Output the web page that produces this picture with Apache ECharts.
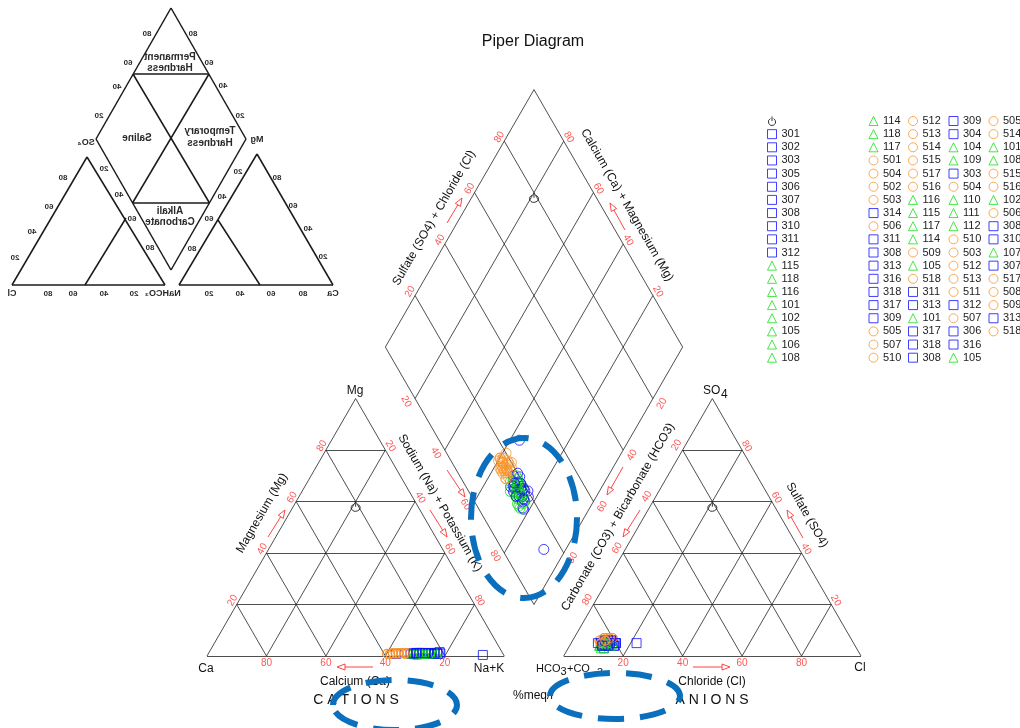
<!DOCTYPE html>
<html>
<head>
<meta charset="utf-8">
<title>Piper Diagram</title>
<script src="https://cdn.jsdelivr.net/npm/echarts@6/dist/echarts.min.js"></script>
<style>
  html, body { margin: 0; padding: 0; background: #fff; }
  #main { width: 1020px; height: 728px; }
</style>
</head>
<body>
<div id="main"></div>
<script>
// ---- data (percent meq/l) ----
var ticks = [20, 40, 60, 80];

// sample ids, in the order of the legend columns
var col1Ids = ['301','302','303','305','306','307','308','310','311','312','115','118','116','101','102','105','106','108'];
var col2Ids = ['114','118','117','501','504','502','503','314','506','311','308','313','316','318','317','309','505','507','510'];
var col3Ids = ['512','513','514','515','517','516','116','115','117','114','509','105','518','311','313','101','317','318','308'];
var col4Ids = ['309','304','104','109','303','504','110','111','112','510','503','512','513','511','312','507','306','316','105'];
var col5Ids = ['505','514','101','108','515','516','102','506','308','310','107','307','517','508','509','313','518'];

// cations
var caPct = [
  24,27,22,29,25,21,26,30,23,28,26,23,29,25,31,22,27,24,
  28,26,30,36,38,34,37,29,35,24,27,25,22,28,26,31,39,33,36,
  37,34,38,35,32,36,27,24,29,23,33,26,37,21,27,30,25,23,28,
  26,36,25,28,24,35,27,22,30,38,33,36,39,34,29,37,25,7,26,
  35,33,28,22,38,34,27,36,23,29,25,30,37,33,35,26,39
];
var mgPct = [
  1.0,0.8,1.2,0.6,1.0,1.5,0.9,0.7,1.1,0.8,1.3,1.0,0.9,1.2,0.8,1.4,1.0,1.1,
  1.0,1.2,0.8,1.0,0.8,1.2,0.9,1.0,1.1,0.9,1.2,1.0,0.8,1.1,0.9,1.0,0.8,1.2,1.0,
  0.9,1.1,0.8,1.0,1.2,0.9,1.1,1.0,0.9,1.2,1.0,0.8,1.1,1.0,0.9,1.1,1.0,0.8,1.2,
  1.0,0.8,1.1,0.9,1.2,1.0,0.8,1.1,1.0,0.9,1.1,1.0,0.8,1.2,1.0,0.9,1.1,0.4,1.0,
  1.1,0.9,1.0,1.2,0.8,1.0,1.1,0.9,1.0,1.2,0.9,1.0,1.1,0.8,1.0,1.1,0.9
];
// anions
var clPct = [
  12,13,11,15,12,10,13,11,15,12,11,13,10,12,11,10,14,11,
  12,14,11,11,10,12,9,13,11,12,15,11,13,12,10,13,10,12,11,
  10,11,13,9,11,13,11,12,14,10,11,12,10,11,14,12,15,11,12,
  13,22,11,12,13,10,11,13,14,11,12,10,11,13,12,11,13,9,12,
  11,10,14,11,12,10,12,11,13,11,12,15,11,10,12,11,11
];
var so4Pct = [
  5,4,6,5,4,5,6,4,5,3,5,4,4,6,5,4,5,3,
  4,5,6,6,7,5,6,4,7,5,4,5,6,4,5,5,6,7,5,
  6,5,7,6,5,6,4,5,5,4,6,3,7,4,5,5,4,5,6,
  5,5,4,5,6,6,5,4,5,7,6,5,6,7,4,6,5,5,5,
  6,5,4,5,6,7,5,5,4,6,5,5,6,5,7,4,6
];
// reference point: ca, mg, cl, so4
var neutralPct = [21, 58, 21, 58];

// ---- geometry: triangle side = 100 data units ----
var H = Math.sqrt(3) / 2;
function leftTri(ca, mg) { var na = 100 - ca - mg; return [na + mg / 2, mg * H]; }
function rightTri(cl, so4) { return [120 + cl + so4 / 2, so4 * H]; }
function diamond(ca, mg, cl, so4) {
  var u = ca + mg, v = cl + so4;
  return [110 + (v - u) / 2, 20 * H + (u + v) * H];
}
function lerp(a, b, f) { return [a[0] + (b[0] - a[0]) * f, a[1] + (b[1] - a[1]) * f]; }

var segs = [];
function seg(a, b) { segs.push({ coords: [a, b] }); }
function triGrid(P, Q, R) {
  seg(P, Q); seg(Q, R); seg(R, P);
  ticks.forEach(function (t) {
    var f = t / 100;
    seg(lerp(P, R, f), lerp(Q, R, f));
    seg(lerp(P, Q, f), lerp(P, R, f));
    seg(lerp(Q, P, f), lerp(Q, R, f));
  });
}
triGrid([0, 0], [100, 0], [50, 100 * H]);
triGrid([120, 0], [220, 0], [170, 100 * H]);
var dB = [110, 20 * H], dL = [60, 120 * H], dR = [160, 120 * H], dT = [110, 220 * H];
seg(dB, dL); seg(dL, dT); seg(dT, dR); seg(dR, dB);
ticks.forEach(function (t) {
  var f = t / 100;
  seg(lerp(dB, dR, f), lerp(dL, dT, f));
  seg(lerp(dB, dL, f), lerp(dR, dT, f));
});

var series = [{
  type: 'lines', coordinateSystem: 'cartesian2d', silent: true, z: 1,
  lineStyle: { color: '#222', width: 0.8, opacity: 1 },
  data: segs
}];

function tickSeries(pointFn, rotate, offset) {
  series.push({
    type: 'scatter', silent: true, z: 3, symbolSize: 1,
    itemStyle: { color: 'transparent' },
    label: {
      show: true, position: 'inside', rotate: rotate, offset: offset,
      color: '#ff2a2a', fontSize: 10, fontFamily: 'Liberation Sans',
      formatter: function (p) { return p.value[2]; }
    },
    data: ticks.map(function (t) { return pointFn(t).concat([String(t)]); })
  });
}
tickSeries(function (t) { return leftTri(100 - t, t); }, 60, [1.5, -5.5]);
tickSeries(function (t) { return leftTri(0, 100 - t); }, -60, [-1, -6.3]);
tickSeries(function (t) { return leftTri(t, 0); }, 0, [0, 7]);
tickSeries(function (t) { return rightTri(0, 100 - t); }, 60, [1.3, -7.7]);
tickSeries(function (t) { return rightTri(100 - t, t); }, -60, [-1.2, -5.9]);
tickSeries(function (t) { return rightTri(t, 0); }, 0, [0, 7]);
tickSeries(function (t) { return diamond(100, 0, t, 0); }, 60, [1, -6.3]);
tickSeries(function (t) { return diamond(t, 0, 100, 0); }, -60, [-1, -6.3]);
tickSeries(function (t) { return diamond(100 - t, 0, 0, 0); }, -60, [-1.9, 9.3]);
tickSeries(function (t) { return diamond(0, 0, 100 - t, 0); }, 60, [0.2, 10.3]);

// neutral reference symbol
var neutralSymbol = 'path://M3.31,2.37 A4,4 0 1 0 6.69,2.37 M5,0 L5,5';
series.push({
  type: 'scatter', name: ' ', silent: true, z: 4,
  symbol: neutralSymbol, symbolSize: 9,
  itemStyle: { color: 'transparent', borderColor: '#000', borderWidth: 1 },
  data: [
    leftTri(neutralPct[0], neutralPct[1]),
    rightTri(neutralPct[2], neutralPct[3]),
    diamond(neutralPct[0], neutralPct[1], neutralPct[2], neutralPct[3])
  ]
});

var styleByGroup = {
  '1': { symbol: 'triangle', color: '#19e019' },
  '3': { symbol: 'rect', color: '#1010ff' },
  '5': { symbol: 'circle', color: '#f7962f' }
};
var allIds = col1Ids.concat(col2Ids, col3Ids, col4Ids, col5Ids);
allIds.forEach(function (id, i) {
  var st = styleByGroup[id.charAt(0)];
  series.push({
    type: 'scatter', name: id, silent: true, z: 5,
    symbol: st.symbol, symbolSize: 9,
    itemStyle: { color: 'transparent', borderColor: st.color, borderWidth: 1 },
    data: [
      leftTri(caPct[i], mgPct[i]),
      rightTri(clPct[i], so4Pct[i]),
      { value: diamond(caPct[i], mgPct[i], clPct[i], so4Pct[i]), symbol: 'circle', symbolSize: 10 }
    ]
  });
});

function legendCol(ids, left) {
  return {
    orient: 'vertical', left: left, top: 114.5, padding: 0,
    itemWidth: 9, itemHeight: 9, itemGap: 0.15, selectedMode: false,
    itemStyle: { borderWidth: 1 },
    textStyle: { fontSize: 11, lineHeight: 13, color: '#222', fontFamily: 'Liberation Sans' },
    data: ids
  };
}

// ---- annotations ----
var FONT = 'Liberation Sans';
var graphic = [];
function txt(t, x, y, size, rot, extra) {
  var el = {
    type: 'text', x: x, y: y, rotation: (rot || 0) * Math.PI / 180, z: 10,
    style: { text: t, fontSize: size, fontFamily: FONT, fill: '#111', align: 'center', verticalAlign: 'middle' }
  };
  if (extra) { for (var k in extra) el.style[k] = extra[k]; }
  graphic.push(el);
}
txt('Piper Diagram', 533, 42, 16);
txt('Magnesium (Mg)', 262, 513, 12, 60);
txt('Sodium (Na) + Potassium (K)', 440, 503, 12, -60);
txt('Sulfate (SO4) + Chloride (Cl)', 434, 218, 12, 60);
txt('Calcium (Ca) + Magnesium (Mg)', 627, 205, 12, -60);
txt('Carbonate (CO3) + Bicarbonate (HCO3)', 618, 517, 12, 60);
txt('Sulfate (SO4)', 807, 515, 12, -60);
txt('Calcium (Ca)', 355, 682, 12);
txt('Chloride (Cl)', 712, 682, 12);
txt('C A T I O N S', 356, 700, 14);
txt('A N I O N S', 712, 700, 14);
txt('%meq/l', 533, 696, 12);
txt('Ca', 206, 669, 12);
txt('Na+K', 489, 669, 12);
txt('Cl', 860, 668, 12);
txt('Mg', 355, 391, 12);
txt('SO', 703, 391, 12, 0, { align: 'left' });
txt('4', 721, 395, 12, 0, { align: 'left' });
txt('HCO', 536, 669, 11, 0, { align: 'left' });
txt('3', 560.5, 672, 11, 0, { align: 'left' });
txt('+CO', 567, 669, 11, 0, { align: 'left' });
txt('3', 597, 673, 11, 0, { align: 'left' });

function arrow(x1, y1, x2, y2) {
  var dx = x2 - x1, dy = y2 - y1, len = Math.sqrt(dx * dx + dy * dy);
  var ux = dx / len, uy = dy / len, hl = 8, hw = 3;
  var bx = x2 - ux * hl, by = y2 - uy * hl;
  graphic.push({ type: 'line', z: 10, shape: { x1: x1, y1: y1, x2: bx, y2: by }, style: { stroke: '#ff3030', lineWidth: 0.9 } });
  graphic.push({ type: 'polygon', z: 10,
    shape: { points: [[x2, y2], [bx - uy * hw, by + ux * hw], [bx + uy * hw, by - ux * hw]] },
    style: { fill: '#fff', stroke: '#ff3030', lineWidth: 0.9 } });
}
arrow(268, 537, 285, 510);
arrow(447, 470, 465, 497);
arrow(430, 510, 447, 537);
arrow(373, 667, 337, 667);
arrow(447, 223, 462, 198);
arrow(625, 230, 610, 203);
arrow(623, 467, 607, 495);
arrow(640, 510, 623, 537);
arrow(803, 538, 787, 510);
arrow(693, 667, 730, 667);

// dashed highlight ellipses
[[524, 518, 53, 80], [395, 705, 62, 25], [615, 696, 65, 23]].forEach(function (e) {
  graphic.push({ type: 'ellipse', z: 100,
    shape: { cx: e[0], cy: e[1], rx: e[2], ry: e[3] },
    style: { fill: 'none', stroke: '#0a6fbd', lineWidth: 6, lineDash: [26, 16] } });
});

// inset: mirrored classification sketch
var insetLines = [
  [171, 8, 96, 139], [96, 139, 171, 270], [171, 270, 246, 139], [246, 139, 171, 8],
  [133, 74, 209, 74], [133, 74, 209.5, 203], [209, 74, 132.5, 203], [132.5, 203, 209.5, 203],
  [87, 157, 12, 285], [12, 285, 165, 285], [165, 285, 87, 157], [126, 218, 85, 285],
  [257, 154, 179, 285], [179, 285, 333, 285], [333, 285, 257, 154], [218, 220, 260, 285]
];
insetLines.forEach(function (l) {
  graphic.push({ type: 'line', z: 10, shape: { x1: l[0], y1: l[1], x2: l[2], y2: l[3] }, style: { stroke: '#1a1a1a', lineWidth: 1.5 } });
});
var insetText = [
  ['Permanent', 170, 57, 10], ['Hardness', 170, 68, 10], ['Saline', 137, 138, 10],
  ['Temporary', 210, 131, 10], ['Hardness', 210, 143, 10], ['Alkali', 170, 211, 10], ['Carbonate', 170, 222, 10],
  ['SO\u2084', 86, 143, 9], ['Mg', 257, 140, 9],
  ['Cl', 12, 294, 9], ['80', 48, 294, 8], ['60', 73, 294, 8], ['40', 104, 294, 8], ['20', 134, 294, 8],
  ['HCO\u2083', 157, 294, 9], ['Na', 175, 294, 9], ['20', 209, 294, 8], ['40', 240, 294, 8],
  ['60', 271, 294, 8], ['80', 303, 294, 8], ['Ca', 333, 294, 9],
  ['80', 147, 34, 8], ['60', 128, 63, 8], ['40', 117, 87, 8], ['20', 99, 116, 8],
  ['80', 193, 34, 8], ['60', 209, 63, 8], ['40', 223, 86, 8], ['20', 240, 116, 8],
  ['20', 104, 169, 8], ['40', 119, 195, 8], ['60', 132, 219, 8], ['80', 150, 248, 8],
  ['20', 238, 172, 8], ['40', 222, 197, 8], ['60', 209, 219, 8], ['80', 192, 249, 8],
  ['80', 63, 178, 8], ['60', 49, 207, 8], ['40', 32, 232, 8], ['20', 15, 258, 8],
  ['80', 277, 178, 8], ['60', 293, 206, 8], ['40', 308, 229, 8], ['20', 323, 257, 8]
];
insetText.forEach(function (t) {
  graphic.push({ type: 'text', x: t[1], y: t[2], scaleX: -1, z: 10,
    style: { text: t[0], fontSize: t[3], fontWeight: 'bold', fontFamily: 'Liberation Sans', fill: '#2a2a2a',
      align: 'center', verticalAlign: 'middle' } });
});

var chart = echarts.init(document.getElementById('main'));
chart.setOption({
  animation: false,
  backgroundColor: '#fff',
  grid: { left: 177.27, top: 61.46, width: 713.45, height: 653.99 },
  xAxis: { type: 'value', min: -10, max: 230, show: false },
  yAxis: { type: 'value', min: -20, max: 200, show: false },
  legend: [
    legendCol([' '].concat(col1Ids), 767),
    legendCol(col2Ids, 868.5),
    legendCol(col3Ids, 908),
    legendCol(col4Ids, 948.5),
    legendCol(col5Ids, 988.5)
  ],
  graphic: graphic,
  series: series
});
</script>
</body>
</html>
